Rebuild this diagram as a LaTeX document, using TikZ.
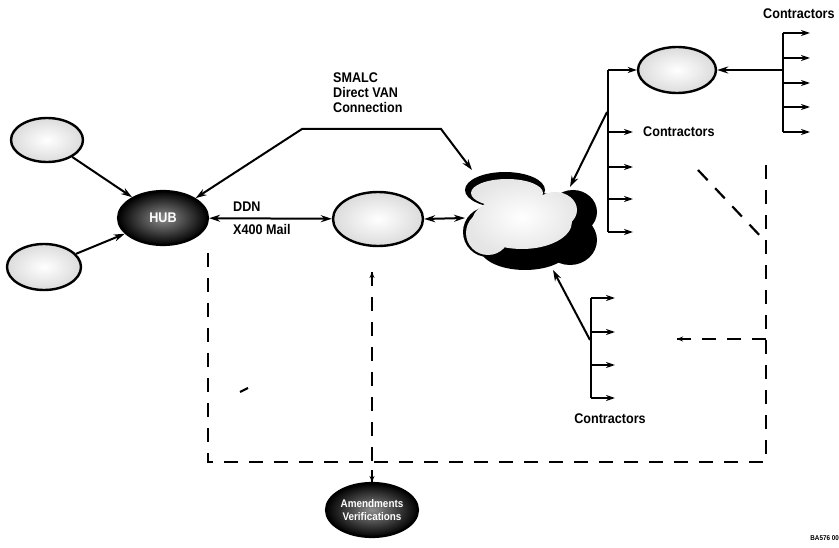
\documentclass[tikz,border=0pt]{standalone}
\usepackage{fontspec}
\setmainfont{Liberation Sans}
\newfontfamily\labfont[FakeStretch=0.9]{Liberation Sans}
\usetikzlibrary{shapes.geometric,arrows.meta}
\begin{document}
\begin{tikzpicture}[x=1pt,y=-1pt,
  lbl/.style={font=\labfont\bfseries\fontsize{14}{15}\selectfont, inner sep=0pt},
  lightell/.style={ellipse, draw=black, line width=2.4pt, inner color=white, outer color=black!14, inner sep=0pt},
  darkell/.style={ellipse, draw=black, line width=2.2pt, inner color=black!45, outer color=black, text=white, inner sep=0pt,
    font=\labfont\bfseries\fontsize{14}{15}\selectfont, align=center},
  arr/.style={line width=2pt, -{Stealth[length=11pt,width=7pt]}},
  darr/.style={line width=2pt, {Stealth[length=11pt,width=7pt]}-{Stealth[length=11pt,width=7pt]}},
  tickarr/.style={line width=2pt, -{Stealth[length=9pt,width=6pt]}},
  busline/.style={line width=2.2pt},
  dline/.style={line width=2.2pt, dash pattern=on 14pt off 11pt},
  smalltip/.style={-{Stealth[length=6pt,width=5pt]}},
  darklobe/.style={fill=black},
  lightlobe/.style={inner color=white, outer color=black!10},
]
\useasboundingbox (0,0) rectangle (839,548);

% ---------- ellipses ----------
\node[lightell, minimum width=72pt, minimum height=44pt] (tl) at (47,140) {};
\node[lightell, minimum width=74pt, minimum height=46pt] (bl) at (44,267) {};
\node[darkell, minimum width=90pt, minimum height=54pt] (hub) at (163,218) {HUB};
\node[lightell, minimum width=90pt, minimum height=54pt] (mid) at (378,219) {};
\node[lightell, minimum width=78pt, minimum height=46pt] (tr) at (677,70) {};
\node[darkell, minimum width=92pt, minimum height=54pt, font=\labfont\bfseries\fontsize{11}{13}\selectfont] (ver) at (372,510) {Amendments\\Verifications};

% ---------- cloud ----------
\fill[darklobe] (505,190) ellipse [x radius=40, y radius=18]
  (573,212) ellipse [x radius=24, y radius=22]
  (570,240) ellipse [x radius=27, y radius=25]
  (525,248) ellipse [x radius=45, y radius=22]
  (488,232) ellipse [x radius=25, y radius=25]
  (530,222) ellipse [x radius=50, y radius=30];
\shade[lightlobe] (507,193) ellipse [x radius=36, y radius=14]
  (522,222) ellipse [x radius=50, y radius=27]
  (488,233) ellipse [x radius=22, y radius=22]
  (555,210) ellipse [x radius=22, y radius=18];
\node[minimum width=134pt, minimum height=97pt, inner sep=0pt] (cloud) at (530,222) {};
\coordinate (cloudW) at (465,218);
\coordinate (cloudNW) at (472,170);
\coordinate (cloudNE) at (570,187);
\coordinate (cloudS) at (553,270);

% ---------- labels ----------
\node[lbl, anchor=base west] (smalc1) at (333,83) {SMALC};
\node[lbl, anchor=base west] (smalc2) at (333,98) {Direct VAN};
\node[lbl, anchor=base west] (smalc3) at (333,113) {Connection};
\node[lbl, anchor=base west] (ddn) at (233,212) {DDN};
\node[lbl, anchor=base west] (x400) at (233,235) {X400 Mail};
\node[lbl, anchor=base west] (con1) at (643,137) {Contractors};
\node[lbl, anchor=base west] (con2) at (763,19) {Contractors};
\node[lbl, anchor=base] (con3) at (610,423) {Contractors};
\node[font=\labfont\bfseries\fontsize{7}{8}\selectfont, anchor=base east, inner sep=0pt] (code) at (839,540) {BA576 00};

% ---------- solid connectors ----------
\draw[arr] (tl) -- (hub);
\draw[arr] (bl) -- (hub);
\draw[darr] (hub) -- (mid);
\draw[darr] (mid.east) -- (cloudW);
\coordinate (s1) at (302,129);
\coordinate (s2) at (441,129);
\draw[darr] (hub.north east) -- (s1) -- (s2) -- (cloudNW);

% bus 1
\coordinate (b1t) at (608,70);
\coordinate (b1b) at (608,232);
\coordinate (b1m) at (607,112);
\draw[busline] (b1t) -- (b1b);
\draw[tickarr] (b1t) -- (tr.west);
\foreach \yy in {132,167,199,232} {
  \coordinate (b1s\yy) at (608,\yy);
  \coordinate (b1e\yy) at (633,\yy);
  \draw[tickarr] (b1s\yy) -- (b1e\yy);
}
\draw[arr] (b1m) -- (cloudNE);

% bus 2
\coordinate (b2t) at (783,33);
\coordinate (b2b) at (783,132);
\coordinate (b2m) at (783,70);
\draw[busline] (b2t) -- (b2b);
\foreach \yy in {33,58,83,107,132} {
  \coordinate (b2s\yy) at (783,\yy);
  \coordinate (b2e\yy) at (810,\yy);
  \draw[tickarr] (b2s\yy) -- (b2e\yy);
}
\draw[arr] (b2m) -- (tr.east);

% bus 3
\coordinate (b3t) at (591,298);
\coordinate (b3b) at (591,398);
\coordinate (b3m) at (590,340);
\draw[busline] (b3t) -- (b3b);
\foreach \yy in {298,332,365,398} {
  \coordinate (b3s\yy) at (591,\yy);
  \coordinate (b3e\yy) at (615,\yy);
  \draw[tickarr] (b3s\yy) -- (b3e\yy);
}
\draw[arr] (b3m) -- (cloudS);

% ---------- dashed connectors ----------
\coordinate (dl1) at (208,253);
\coordinate (dl2) at (208,462);
\coordinate (dr2) at (766,462);
\coordinate (dr1) at (766,157);
\draw[dline] (dl1) -- (dl2) -- (dr2) -- (dr1);
\coordinate (dg1) at (698,170);
\coordinate (dg2) at (764,240);
\draw[dline] (dg1) -- (dg2);
\coordinate (dh1) at (677,339);
\coordinate (dh2) at (766,339);
\draw[dline] (dh2) -- (dh1);
\draw[smalltip, line width=1.6pt] (690,339) -- (dh1);
\coordinate (dm1) at (372,272);
\coordinate (dm2) at (372,482);
\draw[dline] (dm1) -- (dm2);
\draw[smalltip, line width=1.6pt] (372,284) -- (dm1);
\draw[smalltip, line width=1.6pt] (372,470) -- (dm2);

% stray mark
\coordinate (sm1) at (240,392);
\coordinate (sm2) at (248,388);
\draw[line width=2.2pt] (sm1) -- (sm2);
\end{tikzpicture}
\end{document}
